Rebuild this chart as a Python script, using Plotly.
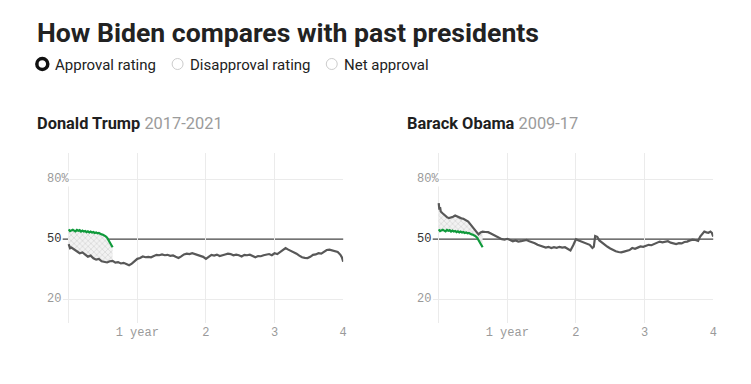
import plotly.graph_objects as go

W, H = 751, 384

# ---------------- data (years into term, approval %) ----------------
trump_years = [0.00, 0.02, 0.04, 0.08, 0.12, 0.16, 0.20, 0.24, 0.28, 0.32, 0.36, 0.40, 0.44, 0.48,
               0.52, 0.56, 0.60, 0.64, 0.68, 0.72, 0.76, 0.80, 0.84, 0.88, 0.92, 0.96, 1.00, 1.04,
               1.08, 1.12, 1.16, 1.20, 1.24, 1.28, 1.32, 1.36, 1.40, 1.44, 1.48, 1.52, 1.56, 1.60,
               1.64, 1.68, 1.72, 1.76, 1.80, 1.84, 1.88, 1.92, 1.96, 2.00, 2.04, 2.08, 2.12, 2.16,
               2.20, 2.24, 2.28, 2.32, 2.36, 2.40, 2.44, 2.48, 2.52, 2.56, 2.60, 2.64, 2.68, 2.72,
               2.76, 2.80, 2.84, 2.88, 2.92, 2.96, 3.00, 3.04, 3.08, 3.12, 3.16, 3.20, 3.24, 3.28,
               3.32, 3.36, 3.40, 3.44, 3.48, 3.52, 3.56, 3.60, 3.64, 3.68, 3.72, 3.76, 3.80, 3.84,
               3.88, 3.92, 3.96, 3.98, 4.00]
trump_approval = [47.5, 45.5, 45.8, 44.9, 44.2, 43.0, 43.4, 42.2, 41.3, 41.8, 40.5, 39.8, 40.2, 39.0,
                  38.8, 38.4, 39.0, 39.2, 38.3, 38.6, 37.9, 38.2, 37.6, 37.0, 37.8, 39.2, 40.2, 40.6,
                  41.4, 41.0, 41.2, 41.0, 41.6, 42.2, 42.0, 42.4, 42.0, 42.2, 41.7, 41.9, 41.2, 40.6,
                  41.4, 42.4, 42.8, 42.6, 43.0, 42.5, 42.0, 41.8, 41.2, 40.2, 41.0, 42.2, 41.8, 42.3,
                  41.6, 42.2, 42.4, 42.8, 42.6, 42.0, 42.3, 42.0, 41.4, 42.2, 42.0, 42.3, 41.8, 41.0,
                  41.6, 41.5, 42.0, 42.4, 42.6, 42.0, 43.0, 42.6, 43.6, 44.2, 45.6, 44.8, 44.2, 43.6,
                  42.8, 41.8, 41.0, 40.7, 40.6, 41.2, 42.2, 42.4, 43.0, 42.8, 43.6, 44.6, 44.8, 44.4,
                  44.0, 43.6, 42.2, 41.0, 38.8]

obama_years = [0.00, 0.01, 0.02, 0.03, 0.06, 0.09, 0.12, 0.15, 0.18, 0.21, 0.24, 0.27, 0.30, 0.33,
               0.36, 0.40, 0.43, 0.46, 0.49, 0.52, 0.55, 0.58, 0.61, 0.64, 0.68, 0.72, 0.76, 0.80,
               0.84, 0.88, 0.92, 0.96, 1.00, 1.04, 1.08, 1.12, 1.16, 1.20, 1.24, 1.28, 1.32, 1.36,
               1.40, 1.44, 1.48, 1.52, 1.56, 1.60, 1.64, 1.68, 1.72, 1.76, 1.80, 1.84, 1.88, 1.92,
               1.96, 2.00, 2.04, 2.08, 2.12, 2.16, 2.20, 2.24, 2.26, 2.28, 2.31, 2.34, 2.38, 2.42,
               2.46, 2.50, 2.54, 2.58, 2.62, 2.66, 2.70, 2.74, 2.78, 2.82, 2.86, 2.90, 2.94, 2.98,
               3.02, 3.06, 3.10, 3.14, 3.18, 3.22, 3.26, 3.30, 3.34, 3.38, 3.42, 3.46, 3.50, 3.54,
               3.58, 3.62, 3.66, 3.70, 3.74, 3.78, 3.81, 3.84, 3.87, 3.90, 3.93, 3.96, 3.98, 4.00]
obama_approval = [68.0, 64.7, 66.0, 63.8, 62.8, 61.8, 61.0, 60.5, 60.8, 61.2, 61.8, 61.2, 61.0, 60.4,
                  60.2, 59.6, 58.8, 57.5, 56.3, 54.6, 53.6, 52.4, 53.4, 53.8, 53.6, 53.5, 52.8, 52.0,
                  51.2, 50.4, 50.0, 49.8, 50.2, 49.6, 49.0, 49.4, 48.8, 49.0, 49.3, 49.6, 49.0, 48.6,
                  48.0, 47.2, 46.8, 46.4, 45.8, 46.2, 45.6, 46.0, 45.7, 46.2, 45.8, 46.0, 45.2, 44.4,
                  47.0, 50.0, 49.4, 48.8, 48.4, 48.0, 47.2, 45.6, 46.2, 51.6, 51.2, 49.4, 48.2, 47.2,
                  46.2, 45.4, 44.6, 44.0, 43.6, 43.4, 43.8, 44.2, 44.6, 45.6, 45.2, 45.8, 46.4, 46.2,
                  46.6, 47.2, 47.0, 47.6, 48.0, 48.8, 48.4, 48.8, 49.0, 48.3, 47.8, 47.6, 48.0, 47.9,
                  48.6, 48.8, 49.4, 49.8, 49.6, 49.2, 51.3, 52.6, 53.8, 53.4, 53.2, 53.8, 53.2, 51.3]

biden_years = [0.00, 0.02, 0.04, 0.06, 0.08, 0.10, 0.12, 0.14, 0.16, 0.18, 0.20, 0.22, 0.24, 0.26,
               0.28, 0.30, 0.32, 0.34, 0.36, 0.38, 0.40, 0.42, 0.44, 0.46, 0.48, 0.50, 0.52, 0.54,
               0.56, 0.58, 0.60, 0.62, 0.64]
biden_approval = [54.9, 54.0, 54.4, 54.7, 54.3, 53.9, 54.6, 54.2, 54.5, 53.8, 54.3, 53.8, 54.1, 53.5,
                  53.9, 53.4, 53.8, 53.3, 53.6, 53.1, 53.4, 52.9, 53.1, 52.6, 52.4, 52.2, 51.9, 51.4,
                  50.8, 49.5, 48.0, 46.9, 46.0]

panels = [
    {"name": "Donald Trump", "term": "2017-2021", "years": trump_years, "values": trump_approval},
    {"name": "Barack Obama", "term": "2009-17", "years": obama_years, "values": obama_approval},
]
x_tickvals = [0, 1, 2, 3, 4]
x_ticktext = ["", "1 year", "2", "3", "4"]
y_tickvals = [20, 50, 80]
y_ticktext = ["20", "50", "80%"]

# ---------------- styling ----------------
GRAY_LINE = "#585858"
GREEN = "#0f9a3b"
GRID = "#ebebeb"
MONO = "Liberation Mono"
SANS = "Roboto"

OFF = 8  # page body margin offset

def px(x):
    return (x - OFF) / W

def py(y):
    return 1 - (y - OFF) / H

# panel geometry (page pixels)
panel_px = [(63, 345), (435, 717)]
plot_top, plot_bottom = 153, 323
title_x = [35, 407]
label_x = [46, 418]

fig = go.Figure()
annotations = []
shapes = []

for i, p in enumerate(panels):
    xa = "x" if i == 0 else "x2"
    ya = "y" if i == 0 else "y2"
    # helper: president values during Biden's span (for fill)
    n = len([v for v in p["years"] if v <= biden_years[-1] + 1e-9])
    fig.add_trace(go.Scatter(x=p["years"][:n], y=p["values"][:n], mode="lines",
                             line=dict(width=0, color="rgba(0,0,0,0)"),
                             xaxis=xa, yaxis=ya, showlegend=False, hoverinfo="skip"))
    fig.add_trace(go.Scatter(x=biden_years, y=biden_approval, mode="lines",
                             line=dict(width=0, color="rgba(0,0,0,0)"),
                             fill="tonexty", fillcolor="#ededed",
                             fillpattern=dict(shape="x", fgcolor="#bdbdbd", bgcolor="#f2f2f2",
                                              size=4, solidity=0.35),
                             xaxis=xa, yaxis=ya, showlegend=False, hoverinfo="skip"))
    fig.add_trace(go.Scatter(x=p["years"], y=p["values"], mode="lines",
                             line=dict(width=2.2, color=GRAY_LINE),
                             xaxis=xa, yaxis=ya, showlegend=False, name=p["name"]))
    fig.add_trace(go.Scatter(x=biden_years, y=biden_approval, mode="lines",
                             line=dict(width=2.2, color=GREEN),
                             xaxis=xa, yaxis=ya, showlegend=False, name="Joe Biden"))

    x0, x1 = panel_px[i]
    axis_common = dict(domain=[px(x0), px(x1)], range=[-0.087, 4.0], tickvals=x_tickvals,
                       ticktext=x_ticktext, showgrid=True, gridcolor=GRID, gridwidth=1,
                       zeroline=False, showline=False, ticks="", fixedrange=True,
                       tickfont=dict(family=MONO, size=12, color="#9a9a9a"))
    yaxis_common = dict(domain=[py(plot_bottom), py(plot_top)], range=[8.2, 93],
                        tickvals=[20, 80], showticklabels=False, showgrid=True,
                        gridcolor=GRID, gridwidth=1, zeroline=False, showline=False,
                        ticks="", fixedrange=True)
    if i == 0:
        fig.update_layout(xaxis=axis_common, yaxis=yaxis_common)
    else:
        fig.update_layout(xaxis2=dict(axis_common, anchor="y2"),
                          yaxis2=dict(yaxis_common, anchor="x2"))

    # 50% reference line
    shapes.append(dict(type="line", xref=f"{xa} domain", yref=ya, x0=0, x1=1, y0=50, y1=50,
                       line=dict(color="#444444", width=1.3), layer="below"))

    # y tick labels (left aligned)
    for v, t in zip(y_tickvals, y_ticktext):
        annotations.append(dict(xref="paper", yref=ya, x=px(label_x[i]), y=v, text=t,
                                showarrow=False, xanchor="left", yanchor="middle",
                                bgcolor="white", borderpad=0,
                                font=dict(family=MONO, size=12,
                                          color="#333333" if v == 50 else "#9a9a9a")))
    # panel title
    annotations.append(dict(xref="paper", yref="paper", x=px(title_x[i]), y=py(124),
                            text=f"<b>{p['name']}</b> <span style='color:#9b9b9b'>{p['term']}</span>",
                            showarrow=False, xanchor="left", yanchor="middle",
                            font=dict(family=SANS, size=16.4, color="#1f1f1f")))

# main title
annotations.append(dict(xref="paper", yref="paper", x=px(35), y=py(32),
                        text="<b>How Biden compares with past presidents</b>",
                        showarrow=False, xanchor="left", yanchor="middle",
                        font=dict(family=SANS, size=26.6, color="#222222")))

# radio options
radio = [("Approval rating", 36, True), ("Disapproval rating", 172, False), ("Net approval", 327, False)]
for label, cx, sel in radio:
    shapes.append(dict(type="circle", xref="paper", yref="paper",
                       x0=px(cx + 1), x1=px(cx + 12), y0=py(69.5), y1=py(58.5),
                       line=dict(color="#111111" if sel else "#cccccc", width=3.5 if sel else 1),
                       fillcolor="white"))
    annotations.append(dict(xref="paper", yref="paper", x=px(cx + 17), y=py(65),
                            text=label, showarrow=False, xanchor="left", yanchor="middle",
                            font=dict(family=SANS, size=15, color="#222222")))

fig.update_layout(width=W, height=H, margin=dict(l=0, r=0, t=0, b=0),
                  paper_bgcolor="white", plot_bgcolor="white",
                  annotations=annotations, shapes=shapes, showlegend=False,
                  font=dict(family=SANS))

fig.write_html("out.html")
